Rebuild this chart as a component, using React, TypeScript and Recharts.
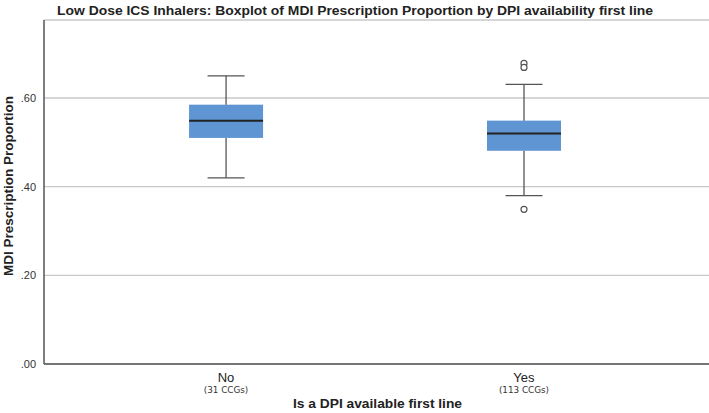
import React from "react";
import { Bar, ComposedChart, CartesianGrid, Scatter, XAxis, YAxis } from "recharts";

const categories = ["No", "Yes"];
const counts = ["(31 CCGs)", "(113 CCGs)"];
const whiskerLow = [0.42, 0.38];
const q1 = [0.51, 0.481];
const median = [0.549, 0.52];
const q3 = [0.585, 0.549];
const whiskerHigh = [0.65, 0.631];
const outlierCat = [1, 1, 1];
const outlierValues = [0.678, 0.669, 0.349];
const yTicks = [0, 0.2, 0.4, 0.6];

const data = categories.map((c, i) => ({
  x: i,
  base: whiskerLow[i],
  lowWhisker: q1[i] - whiskerLow[i],
  lowBox: median[i] - q1[i],
  highBox: q3[i] - median[i],
  highWhisker: whiskerHigh[i] - q3[i]
}));

const outliers = outlierValues.map((v, i) => ({ x: outlierCat[i], v }));

const FONT = "'Liberation Sans', Arial, sans-serif";
const BOX = "#5f95d3";
const WHISK = "#555";
const CAP = 18.5;

const LowWhisker = (p: any) => {
  const cx = p.x + p.width / 2;
  return (
    <g>
      <line x1={cx} x2={cx} y1={p.y} y2={p.y + p.height} stroke={WHISK} strokeWidth={1.3} />
      <line x1={cx - CAP} x2={cx + CAP} y1={p.y + p.height} y2={p.y + p.height} stroke={WHISK} strokeWidth={1.3} />
    </g>
  );
};

const HighWhisker = (p: any) => {
  const cx = p.x + p.width / 2;
  return (
    <g>
      <line x1={cx} x2={cx} y1={p.y} y2={p.y + p.height} stroke={WHISK} strokeWidth={1.3} />
      <line x1={cx - CAP} x2={cx + CAP} y1={p.y} y2={p.y} stroke={WHISK} strokeWidth={1.3} />
    </g>
  );
};

const LowBox = (p: any) => <rect x={p.x} y={p.y} width={p.width} height={p.height} fill={BOX} />;

const HighBox = (p: any) => (
  <g>
    <rect x={p.x} y={p.y} width={p.width} height={p.height} fill={BOX} />
    <line x1={p.x} x2={p.x + p.width} y1={p.y + p.height} y2={p.y + p.height} stroke="#222" strokeWidth={2} />
  </g>
);

const Outlier = (p: any) => (
  <circle cx={p.cx} cy={p.cy} r={3} fill="#fff" stroke={WHISK} strokeWidth={1.2} />
);

const CatTick = (p: any) => {
  const i = Math.round(p.payload.value);
  return (
    <g>
      <text x={p.x} y={382} textAnchor="middle" fontFamily={FONT} fontSize={13} fill="#222">
        {categories[i]}
      </text>
      <text x={p.x} y={392.5} textAnchor="middle" fontFamily="'DejaVu Sans', Verdana, sans-serif" fontSize={8.8} fill="#333">
        {counts[i]}
      </text>
    </g>
  );
};

export default function App() {
  return (
    <div style={{ position: "absolute", left: 0, top: 0, width: 709, height: 413, background: "#fff" }}>
      <ComposedChart
        width={709}
        height={413}
        data={data}
        margin={{ top: 20, right: 0, left: 0, bottom: 0 }}
      >
        <CartesianGrid horizontal vertical={false} stroke="#c8c8c8" strokeWidth={1.3} />
        <XAxis
          dataKey="x"
          type="number"
          domain={[-0.611, 1.621]}
          ticks={[0, 1]}
          tick={<CatTick />}
          tickLine={false}
          axisLine={{ stroke: "#555", strokeWidth: 1.5 }}
          height={49}
          allowDataOverflow
        />
        <YAxis
          type="number"
          domain={[0, 0.776]}
          ticks={yTicks}
          allowDataOverflow
          width={44}
          tickLine={false}
          axisLine={{ stroke: "#555", strokeWidth: 1.5 }}
          tick={{ fill: "#333", fontSize: 11, fontFamily: FONT }}
          tickFormatter={(v: number) => v.toFixed(2).replace(/^0/, "")}
        />
        <Bar dataKey="base" stackId="b" fill="transparent" barSize={74} isAnimationActive={false} />
        <Bar dataKey="lowWhisker" stackId="b" shape={<LowWhisker />} barSize={74} isAnimationActive={false} />
        <Bar dataKey="lowBox" stackId="b" shape={<LowBox />} barSize={74} isAnimationActive={false} />
        <Bar dataKey="highBox" stackId="b" shape={<HighBox />} barSize={74} isAnimationActive={false} />
        <Bar dataKey="highWhisker" stackId="b" shape={<HighWhisker />} barSize={74} isAnimationActive={false} />
        <Scatter data={outliers} dataKey="v" shape={<Outlier />} isAnimationActive={false} />
      </ComposedChart>
      <svg width={709} height={413} style={{ position: "absolute", left: 0, top: 0, pointerEvents: "none" }}>
        <text x={57} y={14.5} fontFamily={FONT} fontWeight="bold" fontSize={13} fill="#222" textLength={596} lengthAdjust="spacingAndGlyphs">
          Low Dose ICS Inhalers: Boxplot of MDI Prescription Proportion by DPI availability first line
        </text>
        <text x={293} y={408} fontFamily={FONT} fontWeight="bold" fontSize={13} fill="#222" textLength={169} lengthAdjust="spacingAndGlyphs">
          Is a DPI available first line
        </text>
        <text
          x={0}
          y={0}
          transform="translate(13,186) rotate(-90)"
          textAnchor="middle"
          fontFamily={FONT}
          fontWeight="bold"
          fontSize={13.5}
          fill="#222"
        >
          MDI Prescription Proportion
        </text>
      </svg>
    </div>
  );
}
